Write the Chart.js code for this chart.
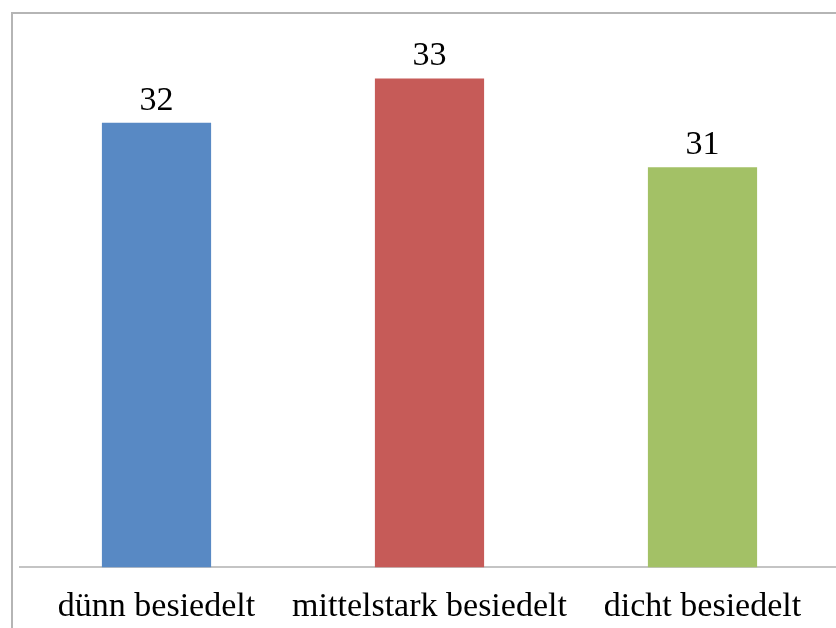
<!DOCTYPE html>
<html>
<head>
<meta charset="utf-8">
<script src="https://cdn.jsdelivr.net/npm/chart.js@4"></script>
<style>
  html, body { margin: 0; padding: 0; background: #fff; overflow: hidden; }
  #wrap { position: relative; width: 836px; height: 628px; overflow: hidden; }
  #frame { position: absolute; left: 11px; top: 12px; width: 900px; height: 700px;
           border: 2px solid #b5b5b5; box-sizing: border-box; }
  #densityChart { position: absolute; left: 0; top: 0; }
</style>
</head>
<body>
<div id="wrap">
  <div id="frame"></div>
  <canvas id="densityChart" width="860" height="646"></canvas>
</div>
<script>
const categories = ["dünn besiedelt", "mittelstark besiedelt", "dicht besiedelt"];
const values = [32, 33, 31];
const barColors = ["#5889c4", "#c65b58", "#a3c166"];

// value labels above each bar
const valueLabels = {
  id: "valueLabels",
  afterDatasetsDraw(chart) {
    const ctx = chart.ctx;
    const meta = chart.getDatasetMeta(0);
    ctx.save();
    ctx.font = "34px 'Liberation Serif'";
    ctx.fillStyle = "#000";
    ctx.textAlign = "center";
    ctx.textBaseline = "alphabetic";
    meta.data.forEach((bar, i) => {
      ctx.fillText(String(values[i]), bar.x, bar.y - 13);
    });
    ctx.restore();
  },
};

const ctx = document.getElementById("densityChart").getContext("2d");
const densityChart = new Chart(ctx, {
  type: "bar",
  data: {
    labels: categories,
    datasets: [
      {
        data: values,
        backgroundColor: barColors,
        borderWidth: 0,
        barPercentage: 0.4,
        categoryPercentage: 1,
      },
    ],
  },
  options: {
    responsive: false,
    animation: false,
    layout: {
      padding: { left: 20, right: 21, top: 34, bottom: 0 },
    },
    plugins: {
      legend: { display: false },
      tooltip: { enabled: false },
    },
    scales: {
      x: {
        grid: { display: false, drawTicks: false },
        border: { display: true, color: "#c4c4c4", width: 2 },
        ticks: {
          color: "#000",
          padding: 19,
          maxRotation: 0,
          minRotation: 0,
          autoSkip: false,
          font: { family: "'Liberation Serif'", size: 34 },
        },
      },
      y: {
        display: false,
        min: 22,
        max: 34,
      },
    },
  },
  plugins: [valueLabels],
});
</script>
</body>
</html>
